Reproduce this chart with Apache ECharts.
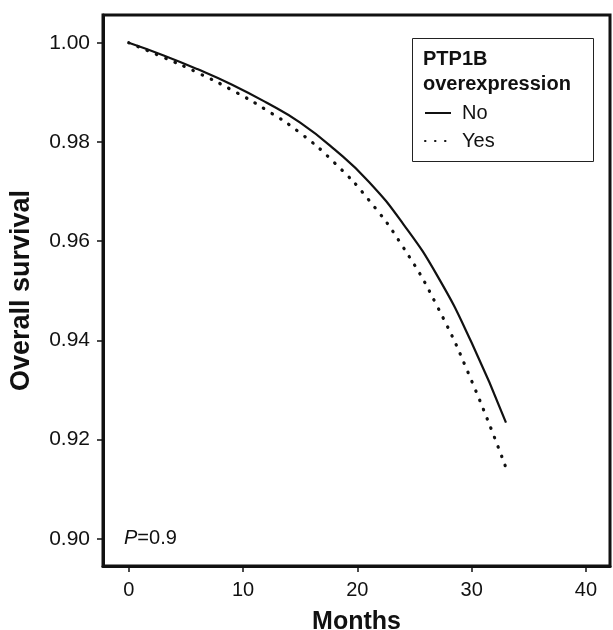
<!DOCTYPE html>
<html>
<head>
<meta charset="utf-8">
<script src="https://cdn.jsdelivr.net/npm/echarts@6/dist/echarts.min.js"></script>
<style>
html,body{margin:0;padding:0;background:#fff;}
#main{width:613px;height:630px;}
</style>
</head>
<body>
<div id="main"></div>
<script>
// months
var months = [0, 3, 6, 9, 12, 15, 18, 21, 24, 27, 30, 33];
// overall survival, no PTP1B overexpression (solid)
var survNo = [1.0000, 0.9975, 0.9947, 0.9916, 0.9880, 0.9839, 0.9785, 0.9720, 0.9635, 0.9530, 0.9395, 0.9234];
// overall survival, PTP1B overexpression (dotted)
var survYes = [1.0000, 0.9971, 0.9940, 0.9905, 0.9865, 0.9818, 0.9758, 0.9683, 0.9588, 0.9468, 0.9318, 0.9143];
var xTicks = [0, 10, 20, 30, 40];
var yTicks = [0.90, 0.92, 0.94, 0.96, 0.98, 1.00];
var legendTitle = ['PTP1B', 'overexpression'];
var groups = ['No', 'Yes'];

function pairs(xs, ys) {
    var out = [];
    for (var i = 0; i < xs.length; i++) out.push([xs[i], ys[i]]);
    return out;
}

var font = 'Liberation Sans, Arial, sans-serif';
var myChart = echarts.init(document.getElementById('main'), null, {renderer: 'canvas'});

var option = {
    animation: false,
    backgroundColor: '#fff',
    grid: {
        left: 103, right: 3, top: 15, bottom: 64,
        outerBoundsMode: 'none',
        containLabel: false,
        show: true, borderColor: '#111', borderWidth: 3
    },
    xAxis: {
        type: 'value',
        min: -2.25, max: 42.1,
        name: 'Months',
        nameLocation: 'middle',
        nameGap: 44,
        nameTextStyle: {fontFamily: font, fontWeight: 'bold', fontSize: 25, color: '#111'},
        axisLine: {onZero: false, lineStyle: {color: '#111', width: 3}},
        axisTick: {customValues: xTicks, length: 6, lineStyle: {color: '#111', width: 1.5}},
        axisLabel: {customValues: xTicks, margin: 14, fontFamily: font, fontSize: 20, color: '#111'},
        splitLine: {show: false}
    },
    yAxis: {
        type: 'value',
        min: 0.8945, max: 1.0056,
        name: 'Overall survival',
        nameLocation: 'middle',
        nameGap: 68,
        nameTextStyle: {fontFamily: font, fontWeight: 'bold', fontSize: 27, color: '#111'},
        axisLine: {onZero: false, lineStyle: {color: '#111', width: 3}},
        axisTick: {customValues: yTicks, length: 6, lineStyle: {color: '#111', width: 1.5}},
        axisLabel: {
            customValues: yTicks, margin: 13, fontFamily: font, fontSize: 21, color: '#111',
            formatter: function (v) { return v.toFixed(2); }
        },
        splitLine: {show: false}
    },
    legend: {
        orient: 'vertical',
        left: 424, top: 103,
        padding: 0,
        itemWidth: 26, itemHeight: 14, itemGap: 8,
        data: groups,
        itemStyle: {opacity: 0},
        textStyle: {fontFamily: font, fontSize: 20, color: '#111', lineHeight: 20, padding: [0, 0, 0, 6]}
    },
    graphic: [
        {
            type: 'rect', left: 410, top: 36, z: 10,
            shape: {width: 181, height: 123},
            style: {fill: 'none', stroke: '#222', lineWidth: 1}
        },
        {
            type: 'text', left: 423, top: 47, z: 10,
            style: {
                text: legendTitle.join('\n'), fontFamily: font, fontWeight: 'bold',
                fontSize: 20, lineHeight: 25, fill: '#111'
            }
        },
        {
            type: 'text', left: 124, top: 528, z: 10,
            style: {
                text: '{i|P}=0.9', fontFamily: font, fontSize: 20, fill: '#111',
                rich: {i: {fontStyle: 'italic', fontFamily: font, fontSize: 20, fill: '#111'}}
            }
        }
    ],
    series: [
        {
            name: groups[0], type: 'line', smooth: 0.5, symbol: 'none',
            data: pairs(months, survNo),
            lineStyle: {color: '#111', width: 2.2},
            itemStyle: {color: '#111'}
        },
        {
            name: groups[1], type: 'line', smooth: 0.5, symbol: 'none',
            data: pairs(months, survYes),
            lineStyle: {color: '#111', width: 3.2, type: [0.5, 9.5], cap: 'round'},
            itemStyle: {color: '#111'}
        }
    ]
};
myChart.setOption(option);
</script>
</body>
</html>
